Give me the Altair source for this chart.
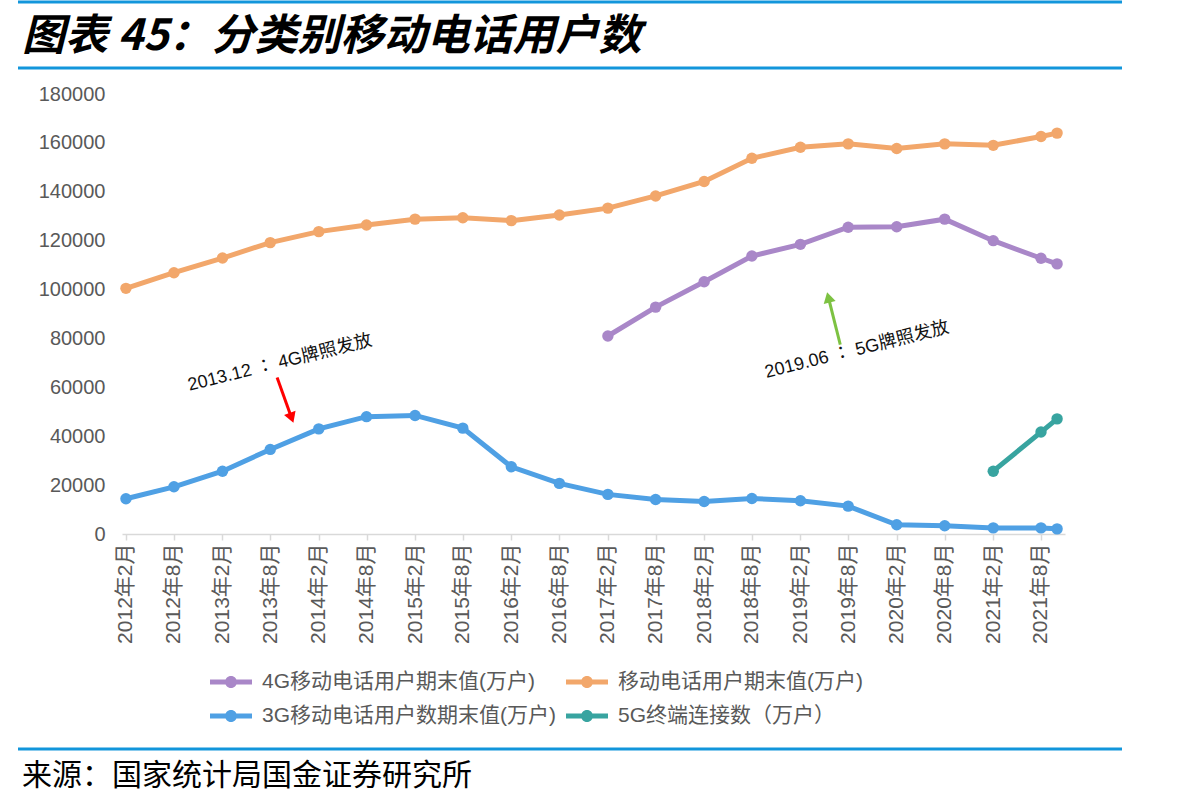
import altair as alt
import pandas as pd

# Reporting periods (month of each observation)
periods = [
    "2012-02-01", "2012-08-01", "2013-02-01", "2013-08-01", "2014-02-01",
    "2014-08-01", "2015-02-01", "2015-08-01", "2016-02-01", "2016-08-01",
    "2017-02-01", "2017-08-01", "2018-02-01", "2018-08-01", "2019-02-01",
    "2019-08-01", "2020-02-01", "2020-08-01", "2021-02-01", "2021-08-01",
    "2021-10-01",
]
tick_periods = periods[:-1]

# Subscriber counts, 万户
total_users = [100500, 106900, 112900, 119200, 123700, 126400, 128800, 129400,
               128200, 130500, 133300, 138300, 144200, 153700, 158200, 159600,
               157700, 159600, 159000, 162600, 164000]
users_4g = [None] * 10 + [81000, 92800, 103200, 113700, 118500, 125500,
                          125700, 128800, 120000, 112800, 110500]
users_3g = [14400, 19300, 25700, 34600, 43000, 48000, 48500, 43300, 27500,
            20700, 16200, 14100, 13300, 14500, 13600, 11400, 3800, 3400,
            2500, 2500, 2100]
links_5g = [None] * 18 + [25700, 41700, 47100]

series_names = ["4G移动电话用户期末值(万户)", "移动电话用户期末值(万户)",
                "3G移动电话用户数期末值(万户)", "5G终端连接数（万户）"]
series_values = [users_4g, total_users, users_3g, links_5g]
series_colors = ["#A987C8", "#F2A76B", "#4FA0E4", "#38A4A0"]

rows = []
for name, vals in zip(series_names, series_values):
    for p, v in zip(periods, vals):
        if v is not None:
            rows.append({"date": p, "series": name, "value": v})
df = pd.DataFrame(rows)

FONT = "Liberation Sans, Noto Sans CJK SC"
NOTE_FONT = "Liberation Sans, Noto Sans CJK TC"
GREY = "#595959"

def dt(s):
    y, m, d = (int(t) for t in s.split("-"))
    return alt.DateTime(year=y, month=m, date=d, utc=True)

xenc = alt.X(
    "date:T",
    scale=alt.Scale(type="utc", domain=[dt("2012-01-17"), dt("2021-10-31")]),
    axis=alt.Axis(
        title=None,
        values=[dt(p) for p in tick_periods],
        labelExpr="utcFormat(datum.value, '%Y年%-m月')",
        labelAngle=270,
        labelFont=FONT, labelFontSize=21, labelColor=GREY,
        labelPadding=3, labelOverlap=False, labelBound=False,
        domainColor="#D9D9D9", domainWidth=1.5,
        tickColor="#D9D9D9", tickSize=6, tickWidth=1.5,
        grid=False,
    ),
)
yenc = alt.Y(
    "value:Q",
    scale=alt.Scale(domain=[0, 180000], nice=False),
    axis=alt.Axis(
        title=None, values=list(range(0, 180001, 20000)), format="d",
        labelFont=FONT, labelFontSize=20, labelColor=GREY, labelPadding=17,
        domain=False, ticks=False, grid=False,
    ),
)

# Legend swatch: a short thick line with a dot in the middle
legend_symbol = ("M-1.75,-0.2 L1.75,-0.2 L1.75,0.2 L-1.75,0.2 Z "
                 "M-0.5,0 A0.5,0.5 0 1,1 0.5,0 A0.5,0.5 0 1,1 -0.5,0 Z")
legend = alt.Legend(
    title=None, orient="none", legendX=97, legendY=576,
    direction="horizontal", columns=2, padding=0,
    symbolType=legend_symbol, symbolSize=576,
    symbolOpacity=1, symbolStrokeWidth=0,
    labelFont=FONT, labelFontSize=21, labelColor=GREY,
    labelOffset=19, labelLimit=500,
    rowPadding=12, columnPadding=10,
)
color_enc = alt.Color("series:N",
                      scale=alt.Scale(domain=series_names, range=series_colors),
                      legend=legend)

points = alt.Chart(df).mark_circle(size=130, opacity=1).encode(
    x=xenc, y=yenc, color=color_enc,
)
lines = alt.Chart(df).mark_line(strokeWidth=5).encode(
    x=xenc, y=yenc, color=color_enc,
)

# Licence annotations: arrow shafts, heads and rotated captions
red_shaft = pd.DataFrame({"date": ["2013-08-27", "2013-10-21"], "value": [64000, 47500]})
red_head = pd.DataFrame({"date": ["2013-10-21"], "value": [47500]})
red_text = pd.DataFrame({"date": ["2013-09-07"], "value": [69900],
                         "label": ["2013.12 ： 4G牌照发放"]})
green_shaft = pd.DataFrame({"date": ["2019-07-02", "2019-05-18"], "value": [77500, 96800]})
green_head = pd.DataFrame({"date": ["2019-05-18"], "value": [96800]})
green_text = pd.DataFrame({"date": ["2019-09-04"], "value": [75200],
                           "label": ["2019.06 ： 5G牌照发放"]})

annotations = [
    alt.Chart(red_shaft).mark_line(color="#FF0000", strokeWidth=3).encode(x=xenc, y=yenc),
    alt.Chart(red_head).mark_point(shape="triangle-up", filled=True, size=150,
                                   color="#FF0000", opacity=1, angle=160).encode(x=xenc, y=yenc),
    alt.Chart(green_shaft).mark_line(color="#7DC242", strokeWidth=3).encode(x=xenc, y=yenc),
    alt.Chart(green_head).mark_point(shape="triangle-up", filled=True, size=150,
                                     color="#7DC242", opacity=1, angle=346).encode(x=xenc, y=yenc),
    alt.Chart(red_text).mark_text(font=NOTE_FONT, fontSize=18, color="#111111", angle=346,
                                  align="center", baseline="middle").encode(x=xenc, y=yenc, text="label:N"),
    alt.Chart(green_text).mark_text(font=NOTE_FONT, fontSize=18, color="#111111", angle=346,
                                    align="center", baseline="middle").encode(x=xenc, y=yenc, text="label:N"),
]

# Page furniture: heading, rules and source line
one = alt.Data(values=[{"k": 0}])
BLUE = "#1296DB"
furniture = [
    alt.Chart(one).mark_rule(color=BLUE, strokeWidth=3).encode(
        x=alt.value(-104), x2=alt.value(1000), y=alt.value(-92)),
    alt.Chart(one).mark_rule(color=BLUE, strokeWidth=3).encode(
        x=alt.value(-104), x2=alt.value(1000), y=alt.value(-26)),
    alt.Chart(one).mark_rule(color=BLUE, strokeWidth=3).encode(
        x=alt.value(-104), x2=alt.value(1000), y=alt.value(655)),
    alt.Chart(one).mark_text(font="Noto Sans CJK SC", fontSize=43, fontWeight="bold",
                             fontStyle="italic", color="#000000", align="left",
                             baseline="alphabetic").encode(
        x=alt.value(-100), y=alt.value(-44), text=alt.value("图表 45：分类别移动电话用户数")),
    alt.Chart(one).mark_text(font="Noto Sans CJK SC", fontSize=30, color="#000000",
                             align="left", baseline="alphabetic").encode(
        x=alt.value(-100), y=alt.value(691), text=alt.value("来源：国家统计局国金证券研究所")),
]

chart = alt.layer(points, lines, *annotations, *furniture).properties(
    width=943, height=440,
    padding={"left": 122, "top": 94, "right": 139, "bottom": 273},
    autosize=alt.AutoSizeParams(type="none"),
    background="#FFFFFF",
).configure_view(stroke=None)

chart.save("out.html", embed_options={"renderer": "svg", "actions": False})
